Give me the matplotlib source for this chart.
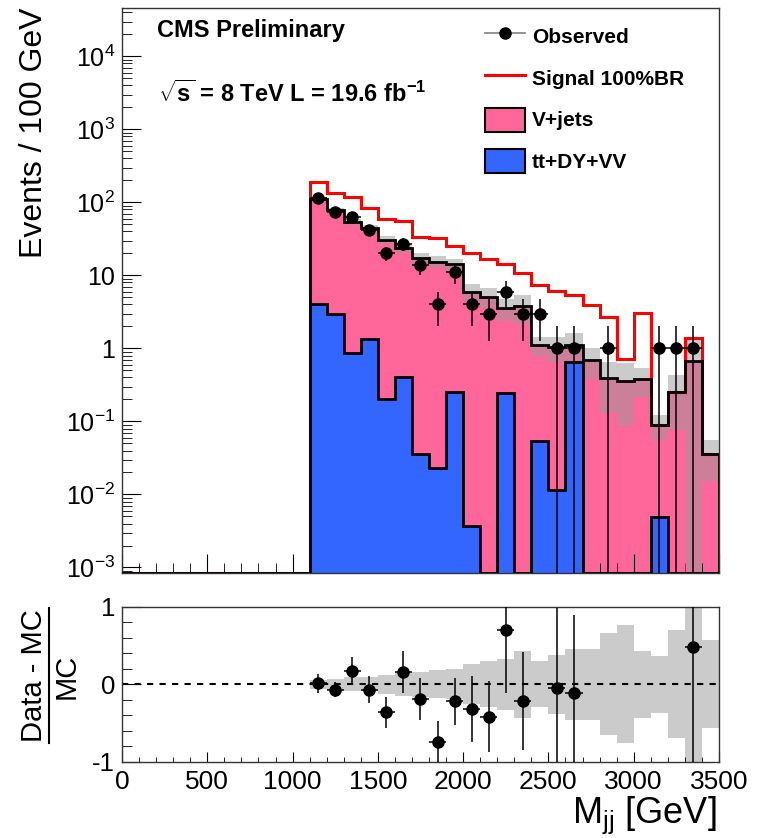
import numpy as np
import matplotlib
matplotlib.use("Agg")
import matplotlib.pyplot as plt
from matplotlib.lines import Line2D
from matplotlib.patches import Patch
from matplotlib.ticker import MultipleLocator, LogLocator, FuncFormatter, NullFormatter

# ==========================================================
# CONFIG
# ==========================================================

plt.rcParams["font.family"] = ["Liberation Sans", "DejaVu Sans"]
plt.rcParams["mathtext.fontset"] = "custom"
plt.rcParams["mathtext.rm"] = "Liberation Sans"
plt.rcParams["mathtext.it"] = "Liberation Sans:italic"
plt.rcParams["mathtext.bf"] = "Liberation Sans:bold"

PINK = "#ff6699"
BLUE = "#3366ff"
BAND = "#999999"

BIN_WIDTH = 100
FIRST_BIN = 1100
X_MAX = 3500
Y_MIN = 8.4e-4
Y_MAX = 4.6e4

# ==========================================================
# DATA (bins of 100 GeV from 1100 to 3500 GeV)
# ==========================================================

# top of the stack (V+jets on top of tt+DY+VV)
mc_total = [113, 78, 54, 45, 31, 23.5, 17.3, 15.5, 14.2, 6.0, 5.1, 3.55,
            3.8, 1.11, 1.05, 1.12, 0.70, 0.39, 0.36, 0.376, 0.089, 0.255,
            0.673, 0.0356]

ttdyvv = [4.0, 3.0, 0.87, 1.34, 0.20, 0.40, 0.036, 0.023, 0.255, 0.0037,
          0, 0.245, 0, 0.054, 0.0114, 0.66, 0, 0, 0, 0, 0.0049, 0, 0, 0]

# signal (100% BR) drawn on top of the background
signal_total = [191, 133, 119, 85, 60, 55, 34, 33, 25.6, 20, 17, 14.2,
                10.9, 7.4, 6.2, 5.4, 3.9, 2.66, 0.71, 3.07, 0.089, 0.255,
                1.37, 0.0356]

observed = [114, 73, 63, 42, 20, 27, 14, 4, 11, 4, 3, 6,
            3, 3, 1, 1, 0, 1, 0, 0, 1, 1, 1, 0]

# relative MC uncertainty (grey band)
mc_rel_unc = [0.06, 0.07, 0.09, 0.09, 0.12, 0.15, 0.16, 0.18, 0.19, 0.26,
              0.30, 0.33, 0.43, 0.30, 0.38, 0.46, 0.46, 0.66, 0.76, 0.43,
              0.37, 0.70, 1.05, 0.57]

# (Data - MC) / MC, nan where the point is off scale / no data
ratio = [0.01, -0.07, 0.17, -0.07, -0.36, 0.16, -0.19, -0.74, -0.22, -0.32,
         -0.42, 0.70, -0.22, np.nan, -0.05, -0.11, np.nan, np.nan, np.nan,
         np.nan, np.nan, np.nan, 0.485, np.nan]

ratio_err = [0.12, 0.10, 0.18, 0.17, 0.20, 0.27, 0.27, 0.26, 0.30, 0.43,
             0.46, 0.81, 0.63, 0, 1.03, 1.0, 0, 0, 0, 0, 0, 0, 1.6, 0]


# ==========================================================
# PREPARE
# ==========================================================

n_empty = FIRST_BIN // BIN_WIDTH
edges = np.arange(0, X_MAX + BIN_WIDTH, BIN_WIDTH)
edges_sel = edges[n_empty:]
centers = 0.5 * (edges_sel[:-1] + edges_sel[1:])


def full(v):
    return np.concatenate([np.zeros(n_empty), np.asarray(v, float)])


def floor(v):
    v = np.asarray(v, float)
    return np.where(v > 0, v, Y_MIN)


total = np.asarray(mc_total, float)
rel = np.asarray(mc_rel_unc, float)
band_hi = total * (1 + rel)
band_lo = np.maximum(total * (1 - rel), Y_MIN)

obs = np.asarray(observed, float)
has = obs > 0
obs_err = np.sqrt(obs)
err_lo = np.minimum(obs_err, obs - 1e-6)

# ==========================================================
# FIGURE
# ==========================================================

fig = plt.figure(figsize=(7.63, 8.38), dpi=100)
ax = fig.add_axes([0.1599, 0.3162, 0.7824, 0.6743])
ax_r = fig.add_axes([0.1599, 0.0910, 0.7824, 0.1850])

# main panel
ax.stairs(floor(full(mc_total)), edges, baseline=Y_MIN, fill=True,
          color=PINK, lw=0, zorder=1)
ax.stairs(floor(full(ttdyvv)), edges, baseline=Y_MIN, fill=True,
          color=BLUE, lw=0, zorder=2)
ax.stairs(band_hi, edges_sel, baseline=band_lo, fill=True,
          color=BAND, alpha=0.5, lw=0, zorder=3)
ax.stairs(floor(full(ttdyvv)), edges, baseline=Y_MIN,
          color="k", lw=2, zorder=4)
ax.stairs(floor(full(signal_total)), edges, baseline=Y_MIN,
          color="red", lw=2.2, zorder=4)
ax.stairs(floor(full(mc_total)), edges, baseline=Y_MIN,
          color="k", lw=2, zorder=5)

ax.errorbar(centers[has], obs[has], yerr=[err_lo[has], obs_err[has]],
            xerr=BIN_WIDTH / 2, fmt="o", color="k", ms=8, lw=1.1,
            capsize=0, zorder=6)

ax.set_xlim(0, X_MAX)
ax.set_yscale("log")
ax.set_ylim(Y_MIN, Y_MAX)


def log_fmt(v, pos):
    e = int(round(np.log10(v)))
    if e == 0:
        return "1"
    if e == 1:
        return "10"
    return r"$10^{%d}$" % e


ax.yaxis.set_major_locator(LogLocator(base=10, numticks=20))
ax.yaxis.set_minor_locator(LogLocator(base=10, subs=np.arange(2, 10), numticks=20))
ax.yaxis.set_major_formatter(FuncFormatter(log_fmt))
ax.yaxis.set_minor_formatter(NullFormatter())
ax.xaxis.set_major_locator(MultipleLocator(500))
ax.xaxis.set_minor_locator(MultipleLocator(100))

ax.tick_params(which="both", direction="in", top=False, right=False)
ax.tick_params(axis="y", which="major", length=14, labelsize=18, pad=5)
ax.tick_params(axis="y", which="minor", length=7)
ax.tick_params(axis="x", which="major", length=14, labelbottom=False)
ax.tick_params(axis="x", which="minor", length=7)

# legend
handles = [
    Line2D([], [], color="gray", marker="o", mfc="k", mec="k", ms=8, lw=1.2),
    Line2D([], [], color="red", lw=2.2),
    Patch(facecolor=PINK, edgecolor="k", lw=1.5),
    Patch(facecolor=BLUE, edgecolor="k", lw=1.5),
]
labels = ["Observed", "Signal 100%BR", "V+jets", "tt+DY+VV"]
ax.legend(handles, labels, loc="upper left",
          bbox_to_anchor=(485 / 763, 1 - 24 / 838),
          bbox_transform=fig.transFigure, frameon=False,
          prop={"weight": "bold", "size": 15}, numpoints=1,
          handlelength=1.92, handleheight=1.4, labelspacing=0.85,
          handletextpad=0.32, borderpad=0, borderaxespad=0)

fig.text(157 / 763, 1 - 36.7 / 838, "CMS Preliminary",
         fontsize=17, fontweight="bold", va="baseline")
fig.text(158 / 763, 1 - 101.7 / 838,
         r"$\sqrt{\mathbf{s}}$ = 8 TeV L = 19.6 fb$^{\mathbf{-1}}$",
         fontsize=17, fontweight="bold", va="baseline")

fig.text(34 / 763, 1 - 133 / 838, "Events / 100 GeV", rotation=90,
         fontsize=23, ha="center", va="center")

# ratio panel
ax_r.stairs(rel, edges_sel, baseline=-rel, fill=True,
            color=BAND, alpha=0.5, lw=0, zorder=1)
ax_r.axhline(0, color="k", ls=(0, (3, 3)), lw=1.5, zorder=2)

r = np.asarray(ratio, float)
ok = ~np.isnan(r)
ax_r.errorbar(centers[ok], r[ok], yerr=np.asarray(ratio_err)[ok],
              xerr=BIN_WIDTH / 2, fmt="o", color="k", ms=8, lw=1.1,
              capsize=0, zorder=3)

ax_r.set_xlim(0, X_MAX)
ax_r.set_ylim(-1, 1)
ax_r.set_yticks([-1, 0, 1])
ax_r.set_yticklabels(["-1", "0", "1"])
ax_r.yaxis.set_minor_locator(MultipleLocator(0.2))
ax_r.xaxis.set_major_locator(MultipleLocator(500))
ax_r.xaxis.set_minor_locator(MultipleLocator(100))
ax_r.tick_params(which="both", direction="in", top=False, right=False)
ax_r.tick_params(axis="y", which="major", length=14, labelsize=18.5, pad=5)
ax_r.tick_params(axis="y", which="minor", length=7)
ax_r.tick_params(axis="x", which="major", length=7, labelsize=19, pad=6)
ax_r.tick_params(axis="x", which="minor", length=3.5)

# ratio y title as a fraction: numerator, bar, denominator
fig.text(34 / 763, 1 - 676 / 838, "Data - MC", rotation=90,
         fontsize=21, ha="center", va="center")
fig.text(67 / 763, 1 - 676 / 838, "MC", rotation=90,
         fontsize=21, ha="center", va="center")
fig.add_artist(Line2D([49 / 763, 49 / 763], [1 - 743 / 838, 1 - 608 / 838],
                      transform=fig.transFigure, color="k", lw=1.5))

fig.text(717 / 763, 1 - 823 / 838, r"M$_{\mathrm{jj}}$ [GeV]",
         ha="right", va="baseline", fontsize=26)

for a in (ax, ax_r):
    for s in a.spines.values():
        s.set_linewidth(1.0)
        s.set_color("#333333")

fig.savefig("out.png", dpi=100)
